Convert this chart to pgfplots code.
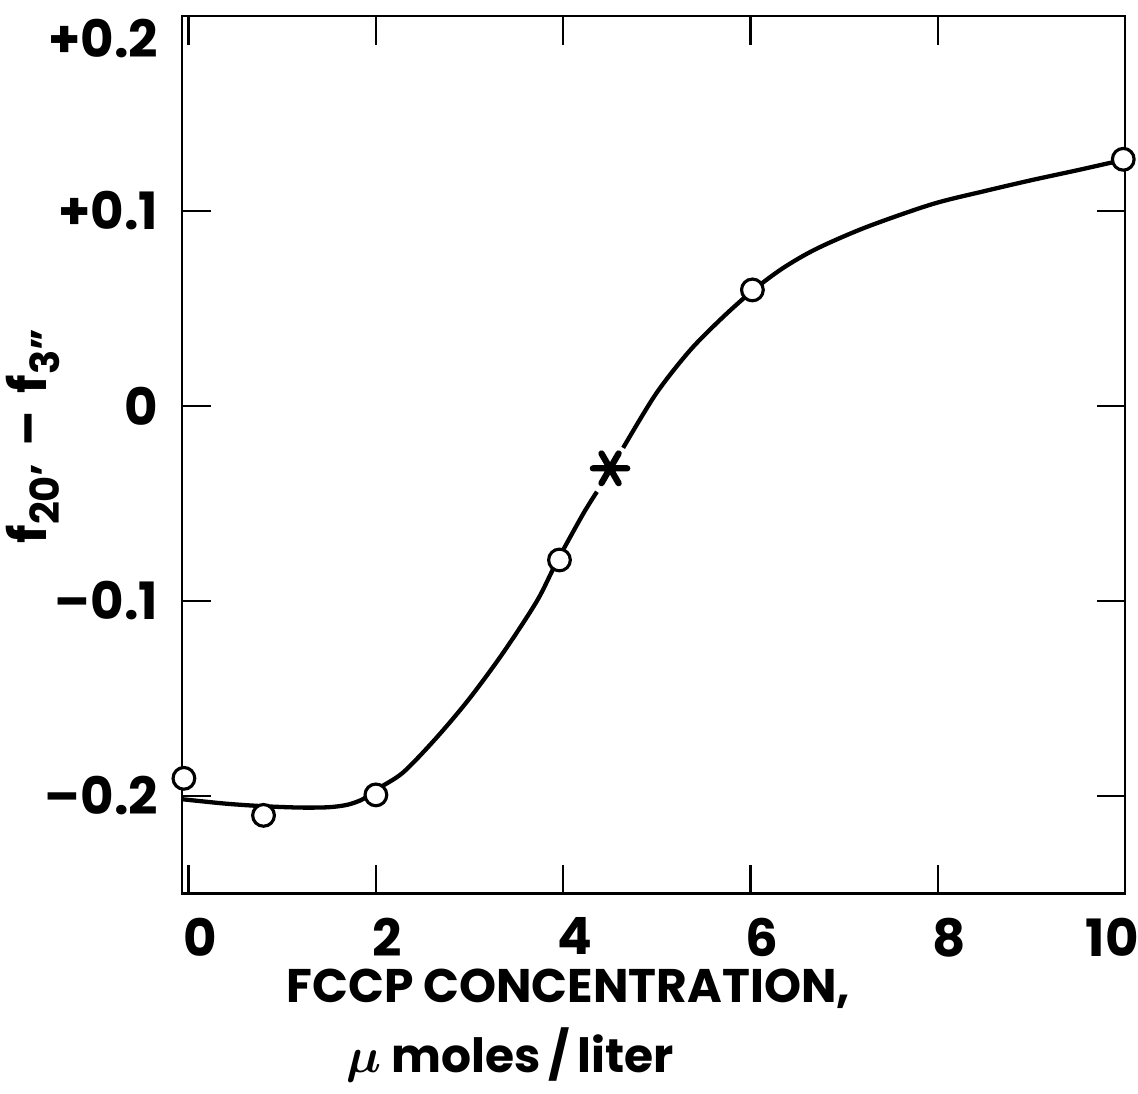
\documentclass[border=0pt]{standalone}
\usepackage{fontspec}
\setmainfont{Poppins}
\usepackage{bm}
\usepackage{pgfplots}
\pgfplotsset{compat=1.18}
\usepackage{pgfplotstable}

\pgfplotstableread{
x y
-0.07 -0.2017
0.4 -0.2040
0.8 -0.2053
1.2 -0.2060
1.5 -0.2058
1.7 -0.2045
1.86 -0.2017
2.01 -0.1966
2.29 -0.1880
2.65 -0.1700
3.0 -0.1500
3.36 -0.1265
3.72 -0.1000
3.93 -0.0800
4.21 -0.0556
4.36 -0.0440
}\curveA

\pgfplotstableread{
x y
4.64 -0.0215
4.99 0.0062
5.35 0.0283
5.70 0.0453
6.02 0.0590
6.34 0.0705
6.7 0.0805
7.23 0.0916
7.94 0.1035
8.5 0.1102
9.0 0.1158
9.5 0.1210
9.98 0.1262
}\curveB

\pgfplotstableread{
x y
-0.05 -0.191
0.8 -0.210
2.0 -0.1995
3.96 -0.079
6.02 0.0595
9.98 0.1265
}\pts

\begin{document}
\begin{tikzpicture}
\begin{axis}[
  scale only axis, width=330pt, height=307pt,
  xmin=-0.07, xmax=10, ymin=-0.25, ymax=0.2,
  clip=false,
  xtick={0,2,4,6,8,10},
  xticklabels={0,2,4,6,8,10\hspace*{17pt}},
  ytick={-0.2,-0.1,0,0.1},
  yticklabels={--0.2,--0.1,0,+0.1},
  extra y ticks={0.2},
  extra y tick labels={+0.2},
  extra y tick style={yticklabel style={yshift=-8pt}},
  tick align=inside,
  major tick length=10pt,
  axis line style={line width=0.8pt},
  every tick/.append style={black, line width=0.8pt},
  tick label style={font=\fontsize{18}{20}\selectfont\bfseries},
  xticklabel style={xshift=4pt, yshift=-5pt},
  yticklabel style={xshift=-4.9pt},
  xlabel={FCCP CONCENTRATION,\\\hspace*{21pt}$\bm{\mu}$ moles\,/\,liter},
  xlabel style={at={(axis description cs:0,0)}, anchor=north west, align=left,
    xshift=33pt, yshift=-23pt, font=\fontsize{16.5}{24.5}\selectfont\bfseries},
  ylabel={f\raisebox{-0.45ex}{\fontsize{14}{15}\selectfont 20'}\,\,--\,\,f\raisebox{-0.45ex}{\fontsize{14}{15}\selectfont 3''}},
  ylabel style={at={(axis description cs:-0.158,0.521)}, anchor=center,
    font=\fontsize{18}{20}\selectfont\bfseries},
]
\addplot[line width=1.5pt, smooth, tension=0.5] table {\curveA};
\addplot[line width=1.5pt, smooth, tension=0.5] table {\curveB};
\addplot[only marks, mark=*, mark size=3.8pt,
  mark options={fill=white, draw=black, line width=1.1pt}] table {\pts};
\addplot[only marks, mark=asterisk, mark size=6pt,
  mark options={rotate=90, line width=2.2pt, line cap=round}] coordinates {(4.5,-0.032)};
\end{axis}
\pgfresetboundingbox
\path ([shift={(-63.7pt,-70pt)}]current axis.south west) rectangle ([shift={(4.5pt,5.6pt)}]current axis.north east);
\end{tikzpicture}
\end{document}
